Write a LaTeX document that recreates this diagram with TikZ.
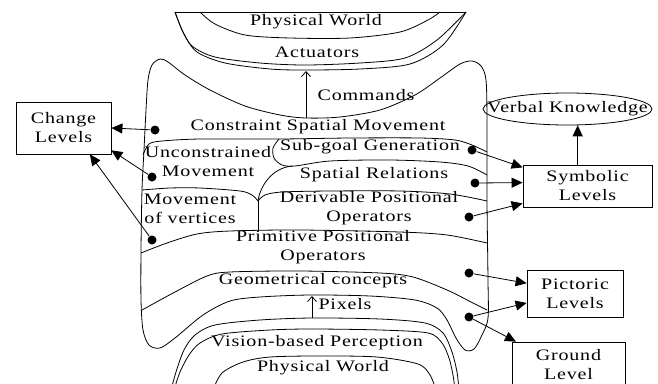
\documentclass[tikz,border=0pt]{standalone}
\usepackage{fontspec}
\setmainfont{Liberation Serif}[FakeStretch=1.25,LetterSpace=5]
\usetikzlibrary{arrows.meta,shapes.geometric}

\begin{document}
\begin{tikzpicture}[x=1pt, y=-1pt, line width=0.8pt,
    every node/.style={font=\fontsize{16}{19}\selectfont},
    lvl/.style={draw, align=center, inner sep=0pt},
    band/.style={align=center},
    blob/.style={circle, fill, inner sep=0pt, minimum size=9pt},
    tri/.style={-{Triangle[length=11pt,width=10pt]}},
    barb/.style={-{Straight Barb[length=5pt,width=9pt]}}]
    \useasboundingbox (0,0) rectangle (658,383);
    \clip (0,0) rectangle (658,383);

    % upper bowl: physical world and actuators
    \draw (175,12) -- (466,12);
    \draw plot[smooth] coordinates {(200,12) (215,24) (245,35) (290,38) (350,38) (400,32) (428,20) (440,12)};
    \draw plot[smooth] coordinates {(175,12) (182,30) (192,46) (215,57) (260,63) (305,65) (360,63) (405,58) (437,40) (466,12)};
    \draw plot[smooth] coordinates {(175,12) (184,34) (197,52) (225,63) (270,69) (305,70) (360,69) (410,64) (443,45) (466,12)};
    \node (phys1) at (316,22) {Physical World};
    \node (act) at (317,52) {Actuators};

    % the big middle body
    \draw plot[smooth cycle] coordinates {(146,110) (148,80) (152,65) (160,59) (168,62) (185,75) (210,90)
        (245,106) (280,115) (306,118) (340,117) (380,110) (415,95) (440,78) (460,64) (472,61) (481,66)
        (486,80) (487,120) (487,200) (488,280) (488,318) (482,335) (474,349) (465,350) (456,338)
        (447,320) (437,308) (415,300) (370,296) (310,295) (260,297) (230,301) (203,315) (175,338)
        (160,348) (149,345) (143,330) (141,300) (141,250) (142,190) (144,150)};

    % bands inside the body
    \draw plot[smooth] coordinates {(143,155) (149,144) (162,141) (200,139) (280,139) (350,138) (420,138) (455,140) (472,145) (487,152)};
    \draw plot[smooth] coordinates {(279,139) (273,148) (274,158) (282,165) (295,166) (330,161) (390,160) (440,162) (468,166) (487,175)};
    \draw (258,201) .. controls (260,186) and (272,168) .. (292,166);
    \draw plot[smooth] coordinates {(142,190) (170,188) (200,188) (240,191) (252,195) (258,201)};
    \draw plot[smooth] coordinates {(258,201) (265,195) (282,192) (330,191) (400,191) (450,194) (487,201)};
    \draw (258,201) -- (258,231);
    \draw plot[smooth] coordinates {(141,253) (167,243) (197,234) (230,231) (300,230) (400,232) (447,235) (487,243)};
    \draw plot[smooth] coordinates {(142,310) (175,292) (207,276) (230,272) (300,271) (380,273) (413,277) (447,290) (473,303) (487,310)};

    \node (csm) at (318,127) {Constraint Spatial Movement};
    \node[band] (unc) at (208,162) {Unconstrained\\Movement};
    \node (sub) at (370,147) {Sub-goal Generation};
    \node (spr) at (374,175) {Spatial Relations};
    \node[band] (mov) at (190,209) {Movement\\of vertices};
    \node[band] (der) at (369,208.5) {Derivable Positional\\Operators};
    \node[band] (prim) at (323,247.5) {Primitive Positional\\Operators};
    \node (geo) at (313,281) {Geometrical concepts};

    % lower bowl: perception and physical world
    \draw plot[smooth] coordinates {(171,390) (176,372) (184,350) (195,335) (215,325) (260,320) (312,318) (380,319) (425,323) (443,333) (452,352) (457,372) (459,390)};
    \draw plot[smooth] coordinates {(174,390) (180,372) (189,355) (200,343) (222,334) (270,330) (312,329) (380,330) (428,333) (442,343) (449,358) (453,375) (455,390)};
    \draw plot[smooth] coordinates {(213,390) (222,373) (243,362) (270,357) (320,356) (377,357) (418,364) (430,375) (436,390)};
    \node (vis) at (317,343) {Vision-based Perception};
    \node (phys2) at (323,368) {Physical World};

    % commands and pixels
    \coordinate (cmdbot) at (306,118);
    \coordinate (cmdtop) at (306,71);
    \draw[barb] (cmdbot) -- (cmdtop);
    \node (cmd) at (366,95) {Commands};
    \coordinate (pixbot) at (312,318);
    \coordinate (pixtop) at (312,296);
    \draw[barb] (pixbot) -- (pixtop);
    \node (pix) at (345,304) {Pixels};

    % levels
    \node[lvl, minimum width=95pt, minimum height=52pt] (chg) at (63.5,128) {Change\\Levels};
    \node[lvl, minimum width=129pt, minimum height=42pt] (sym) at (587.5,186) {Symbolic\\Levels};
    \node[lvl, minimum width=96pt, minimum height=47pt] (pic) at (575,293.5) {Pictoric\\Levels};
    \node[lvl, minimum width=113pt, minimum height=46pt] (gnd) at (568.5,365) {Ground\\Level};
    \node[draw, ellipse, minimum width=169pt, minimum height=32pt, inner sep=0pt] (vk) at (567.5,109) {};
    \node (vktext) at (vk.center) {Verbal Knowledge};

    \node[blob] (d1) at (155,130) {};
    \node[blob] (d2) at (152,177) {};
    \node[blob] (d3) at (152,240) {};
    \node[blob] (r1) at (472,150) {};
    \node[blob] (r2) at (475,183) {};
    \node[blob] (r3) at (469,217) {};
    \node[blob] (r4) at (469,273) {};
    \node[blob] (r5) at (469,317) {};

    \draw[tri] (d1) -- (chg.east);
    \draw[tri] (d2) -- (chg.-25);
    \draw[tri] (d3) -- (chg.-45);
    \draw[tri] (r1) -- (sym.164);
    \draw[tri] (r2) -- (sym.177);
    \draw[tri] (r3) -- (sym.-165);
    \draw[tri] (r4) -- (pic.168);
    \draw[tri] (r5) -- (pic.-169);
    \draw[tri] (r5) -- (gnd.156);
    \draw[tri] (sym.north -| vk.-58) -- (vk.-58);
\end{tikzpicture}
\end{document}
